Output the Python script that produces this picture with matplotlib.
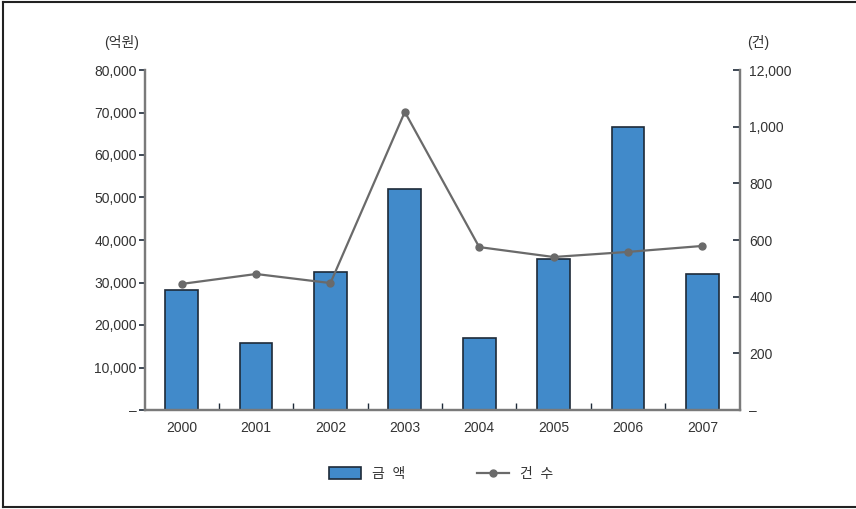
import matplotlib
matplotlib.use("Agg")
import matplotlib.pyplot as plt
from matplotlib.lines import Line2D
from matplotlib.patches import Patch

plt.rcParams['font.family'] = ['Liberation Sans', 'Noto Sans CJK KR', 'DejaVu Sans']

years = ["2000", "2001", "2002", "2003", "2004", "2005", "2006", "2007"]
amount = [28300, 15800, 32500, 52000, 17000, 35500, 66600, 32000]   # 금액 (억원)
counts = [445, 480, 448, 1052, 575, 540, 558, 579]                 # 건수 (건)

left_ticks = [0, 10000, 20000, 30000, 40000, 50000, 60000, 70000, 80000]
left_labels = ["–", "10,000", "20,000", "30,000", "40,000", "50,000", "60,000", "70,000", "80,000"]
right_ticks = [0, 200, 400, 600, 800, 1000, 1200]
right_labels = ["–", "200", "400", "600", "800", "1,000", "12,000"]

bar_color = "#418ACA"
edge_color = "#1E2A38"
line_color = "#6A6A6A"
spine_color = "#7A7A7A"
text_color = "#333333"

fig = plt.figure(figsize=(8.56, 5.09), dpi=100)
ax = fig.add_axes([144.5 / 856, 1 - 410 / 509, (739.5 - 144.5) / 856, (410 - 70) / 509])
ax2 = ax.twinx()

x = list(range(len(years)))
ax.bar(x, amount, width=0.44, color=bar_color, edgecolor=edge_color, linewidth=1.2, zorder=2)
ax2.plot(x, counts, color=line_color, linewidth=1.6, marker="o", markersize=5, zorder=3)

ax.set_xlim(-0.5, len(years) - 0.5)
ax.set_ylim(0, 80000)
ax2.set_ylim(0, 1200)

ax.set_yticks(left_ticks)
ax.set_yticklabels(left_labels)
ax2.set_yticks(right_ticks)
ax2.set_yticklabels(right_labels)

ax.set_xticks(x)
ax.set_xticklabels(years)
ax.set_xticks([i + 0.5 for i in x[:-1]], minor=True)
ax.tick_params(axis="x", which="major", length=0, pad=8, labelsize=10, labelcolor=text_color)
ax.tick_params(axis="x", which="minor", direction="in", length=5, width=1, color=edge_color)
ax.tick_params(axis="y", direction="out", length=4, width=1.2, color=edge_color,
               labelsize=10, labelcolor=text_color, pad=1.5)
ax2.tick_params(axis="y", direction="in", length=5, width=1.2, color=edge_color,
                labelsize=10, labelcolor=text_color, pad=7)

for a in (ax, ax2):
    a.spines["top"].set_visible(False)
    for side in ("left", "right", "bottom"):
        a.spines[side].set_color(spine_color)
        a.spines[side].set_linewidth(1.6)

fig.text(122 / 856, 1 - 43 / 509, "(억원)", ha="center", va="center", fontsize=10, color=text_color)
fig.text(758 / 856, 1 - 43 / 509, "(건)", ha="center", va="center", fontsize=10, color=text_color)

handles = [
    Patch(facecolor=bar_color, edgecolor=edge_color, linewidth=1.2, label="금  액"),
    Line2D([0], [0], color=line_color, linewidth=1.6, marker="o", markersize=5, label="건  수"),
]
fig.legend(handles=handles, loc="center", bbox_to_anchor=(441 / 856, 1 - 474 / 509), ncol=2,
           frameon=False, fontsize=10, handlelength=2.3, handleheight=1.0,
           columnspacing=5.2, handletextpad=0.8, labelcolor=text_color)

# outer frame (left, top, bottom edges)
frame_kw = dict(color="#222222", linewidth=1.5, transform=fig.transFigure)
fig.add_artist(Line2D([3.5 / 856, 3.5 / 856], [1 - 2 / 509, 1 - 507 / 509], **frame_kw))
fig.add_artist(Line2D([3.5 / 856, 1], [1 - 2 / 509, 1 - 2 / 509], **frame_kw))
fig.add_artist(Line2D([3.5 / 856, 1], [1 - 507 / 509, 1 - 507 / 509], **frame_kw))

fig.savefig("out.png", dpi=100)
